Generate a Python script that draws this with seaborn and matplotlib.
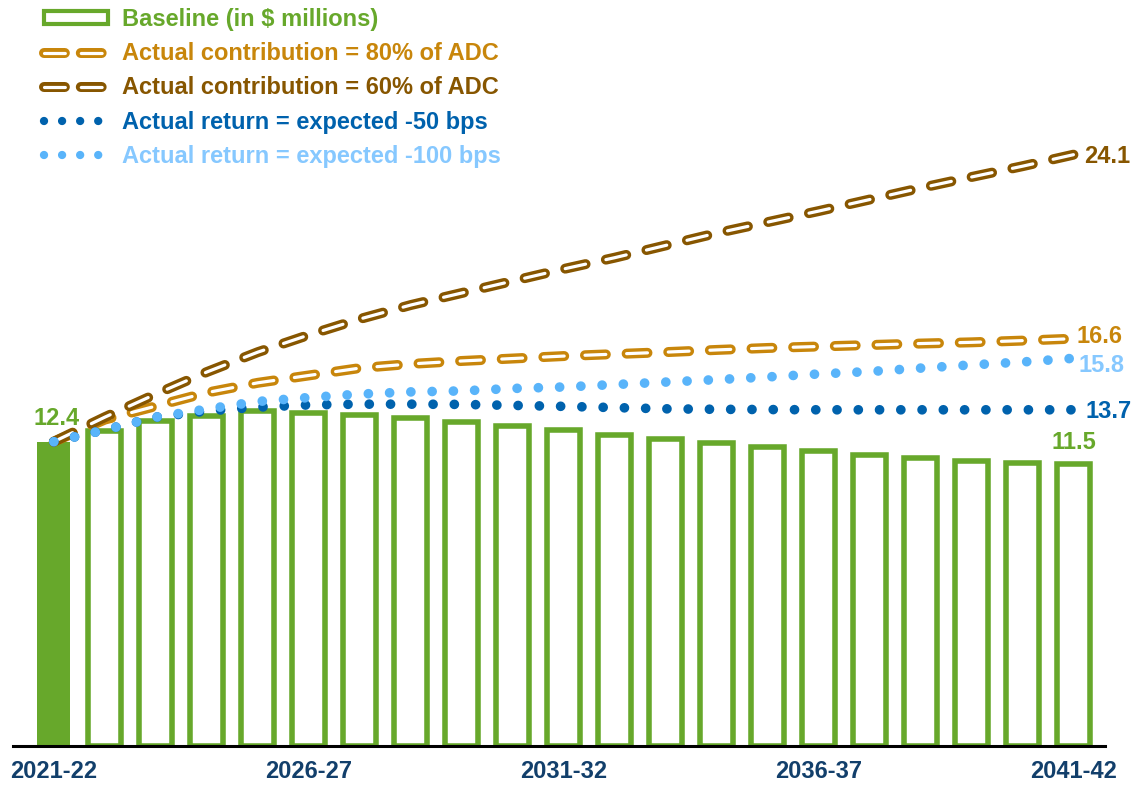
import numpy as np
import matplotlib
matplotlib.use("Agg")
import matplotlib.pyplot as plt
import matplotlib.patheffects as pe
from matplotlib.lines import Line2D
from matplotlib.patches import Patch
import seaborn as sns

# ── données ─────────────────────────────────────────────────────
years = [f"{y}-{str(y + 1)[-2:]}" for y in range(2021, 2042)]
baseline = [12.4, 12.84, 13.23, 13.43, 13.64, 13.57, 13.5, 13.37, 13.2, 13.03,
            12.86, 12.69, 12.52, 12.35, 12.18, 12.03, 11.87, 11.74, 11.6, 11.55, 11.5]
adc80 = [12.4, 13.3, 13.85, 14.4, 14.8, 15.1, 15.4, 15.57, 15.69, 15.79,
         15.89, 15.97, 16.05, 16.14, 16.22, 16.28, 16.34, 16.4, 16.45, 16.52, 16.6]
adc60 = [12.4, 13.4, 14.34, 15.24, 16.05, 16.75, 17.4, 17.97, 18.46, 18.95,
         19.44, 19.9, 20.4, 20.9, 21.35, 21.8, 22.27, 22.74, 23.19, 23.63, 24.1]
ret50 = [12.4, 12.88, 13.4, 13.65, 13.81, 13.9, 13.93, 13.93, 13.92, 13.88,
         13.84, 13.79, 13.74, 13.72, 13.71, 13.7, 13.7, 13.7, 13.7, 13.7, 13.7]
ret100 = [12.4, 12.88, 13.4, 13.73, 14.04, 14.2, 14.34, 14.43, 14.47, 14.57,
          14.63, 14.73, 14.83, 14.93, 15.04, 15.16, 15.26, 15.4, 15.53, 15.65, 15.8]
tick_pos = [0, 5, 10, 15, 20]

GREEN = "#67A82B"
ORANGE = "#C8860B"
BROWN = "#875600"
DBLUE = "#0062AD"
LBLUE = "#59B4FA"
LBLUE_TXT = "#86C8FF"
NAVY = "#123F6B"

sns.set_theme(style="white")
plt.rcParams["font.family"] = ["Liberation Sans", "DejaVu Sans"]
plt.rcParams["font.weight"] = "bold"
plt.rcParams["lines.scale_dashes"] = False

fig = plt.figure(figsize=(11.36, 7.85), dpi=100)
ax = fig.add_axes([13 / 1136, 39 / 785, 1092 / 1136, 746 / 785])

# ── barres ──────────────────────────────────────────────────────
sns.barplot(x=years, y=baseline, color=GREEN, saturation=1, width=0.65,
            edgecolor=GREEN, linewidth=4, ax=ax)
for i, p in enumerate(ax.patches):
    if i == 0:
        p.set_linewidth(0)
    else:
        p.set_facecolor("white")

idx = np.arange(len(years))

# ── lignes "creuses" (tirets) ───────────────────────────────────
def hollow(color):
    return [pe.Stroke(linewidth=7.2, foreground=color), pe.Normal()]

for vals, col in [(adc80, ORANGE), (adc60, BROWN)]:
    sns.lineplot(x=idx, y=vals, color="white", lw=2.3, linestyle=(0, (15, 15)),
                 dash_capstyle="round", solid_capstyle="round",
                 path_effects=hollow(col), ax=ax, zorder=3)

# ── lignes pointillées ──────────────────────────────────────────
for vals, col in [(ret50, DBLUE), (ret100, LBLUE)]:
    sns.lineplot(x=idx, y=vals, color=col, lw=7, linestyle=(0, (0.01, 15.3)),
                 dash_capstyle="round", ax=ax, zorder=4)

# ── étiquettes de valeurs ───────────────────────────────────────
lab_kw = dict(fontsize=17, fontweight="bold", va="center")
ax.text(0.06, 13.33, "12.4", color=GREEN, ha="center", **lab_kw)
ax.text(20, 12.37, "11.5", color=GREEN, ha="center", **lab_kw)
ax.text(20.2, 24.04, "24.1", color=BROWN, ha="left", **lab_kw)
ax.text(20.05, 16.7, "16.6", color=ORANGE, ha="left", **lab_kw)
ax.text(20.1, 15.5, "15.8", color=LBLUE_TXT, ha="left", **lab_kw)
ax.text(20.22, 13.65, "13.7", color=DBLUE, ha="left", **lab_kw)

# ── axes ────────────────────────────────────────────────────────
ax.set_xlim(-0.8, 20.61)
ax.set_ylim(0, 746 / 24.54)
ax.set_yticks([])
ax.set_xticks(tick_pos)
ax.set_xticklabels([years[i] for i in tick_pos], fontsize=17,
                   fontweight="bold", color=NAVY)
ax.tick_params(axis="x", length=0, pad=10)
ax.set_xlabel("")
ax.set_ylabel("")
for s in ["top", "left", "right"]:
    ax.spines[s].set_visible(False)
ax.spines["bottom"].set_color("black")
ax.spines["bottom"].set_linewidth(2.2)
ax.spines["bottom"].set_zorder(5)

# ── légende ─────────────────────────────────────────────────────
handles = [
    Patch(facecolor="white", edgecolor=GREEN, lw=3),
    Line2D([], [], color="white", lw=2.3, linestyle=(0, (15, 11.5)),
           dash_capstyle="round", path_effects=hollow(ORANGE)),
    Line2D([], [], color="white", lw=2.3, linestyle=(0, (15, 11.5)),
           dash_capstyle="round", path_effects=hollow(BROWN)),
    Line2D([], [], color=DBLUE, lw=6, linestyle=(0, (0.01, 13)),
           dash_capstyle="round"),
    Line2D([], [], color=LBLUE, lw=6, linestyle=(0, (0.01, 13)),
           dash_capstyle="round"),
]
labels = ["Baseline (in $ millions)", "Actual contribution = 80% of ADC",
          "Actual contribution = 60% of ADC", "Actual return = expected -50 bps",
          "Actual return = expected -100 bps"]
leg = ax.legend(handles, labels, loc="upper left",
                bbox_to_anchor=(44 / 1136, 1 - 8 / 785),
                bbox_transform=fig.transFigure, frameon=False,
                fontsize=17, handlelength=2.7, handleheight=0.47,
                handletextpad=0.6, labelspacing=0.475, borderpad=0,
                borderaxespad=0,
                labelcolor=[GREEN, ORANGE, BROWN, DBLUE, LBLUE_TXT])
for t in leg.get_texts():
    t.set_fontweight("bold")

fig.savefig("out.png", dpi=100)
